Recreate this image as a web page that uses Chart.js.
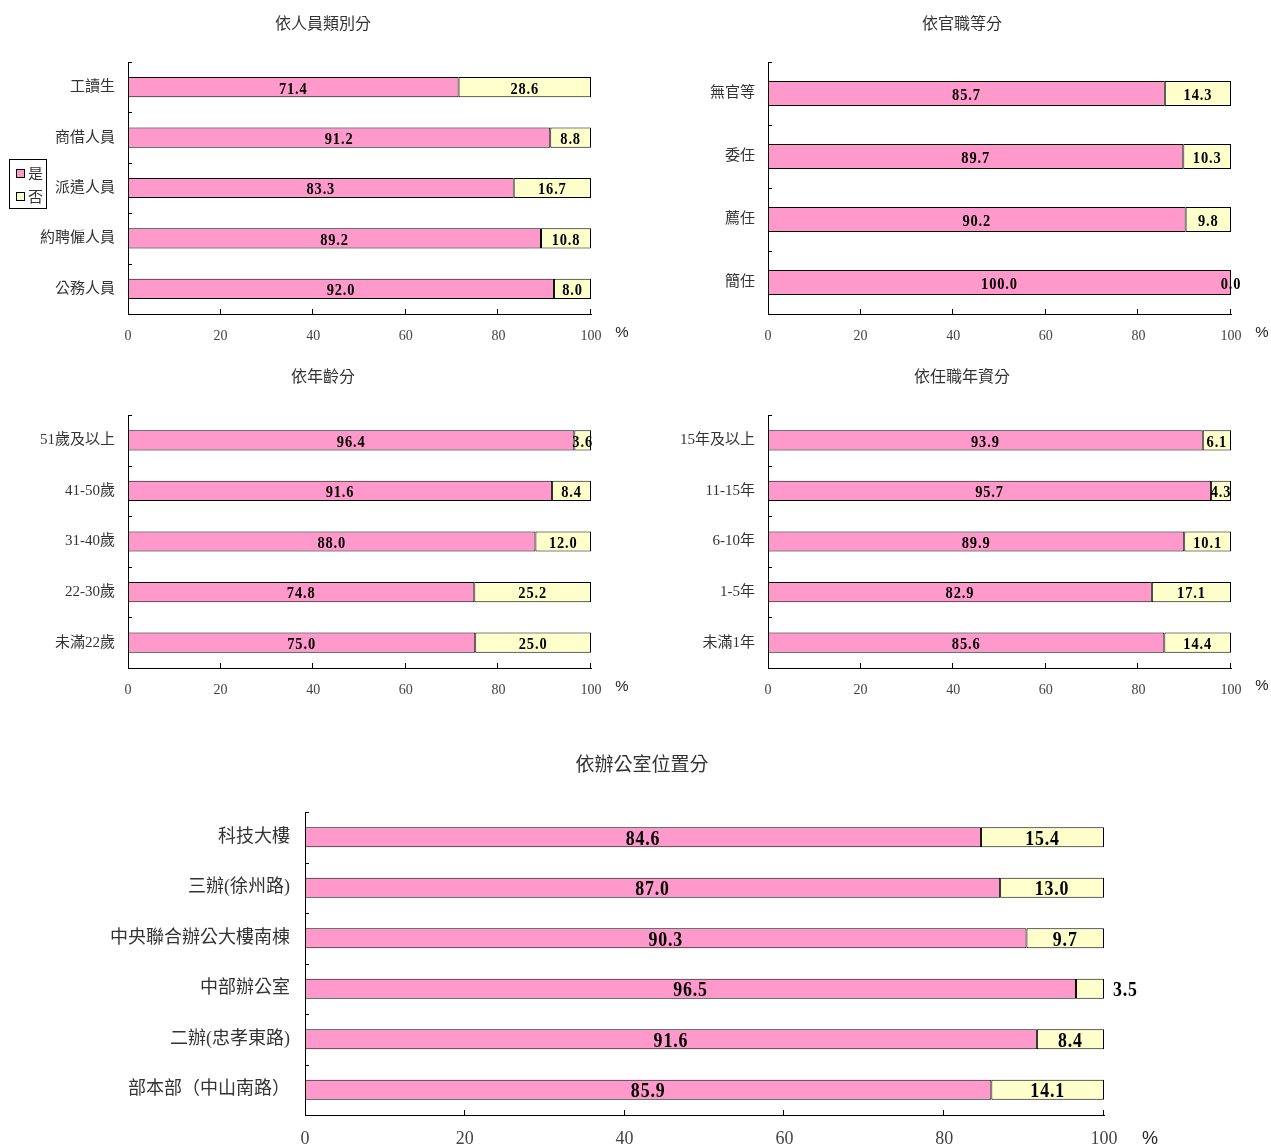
<!DOCTYPE html>
<html>
<head>
<meta charset="utf-8">
<script src="https://cdn.jsdelivr.net/npm/chart.js@4/dist/chart.umd.min.js"></script>
<style>
  body { margin: 0; background: #fff; width: 1271px; height: 1147px; position: relative; overflow: hidden; }
  canvas { position: absolute; }
</style>
</head>
<body>
<canvas id="c1" width="640" height="350" style="left:0;top:0"></canvas>
<canvas id="c2" width="631" height="350" style="left:640px;top:0"></canvas>
<canvas id="c3" width="640" height="350" style="left:0;top:353px"></canvas>
<canvas id="c4" width="631" height="350" style="left:640px;top:353px"></canvas>
<canvas id="c5" width="1271" height="417" style="left:0;top:730px"></canvas>
<script>
// values (是 / 否, in %)
const seriesNames = ["是", "否"];
const xTickValues = [0, 20, 40, 60, 80, 100];

const staffCats = ["工讀生", "商借人員", "派遣人員", "約聘僱人員", "公務人員"];
const staffYes = [71.4, 91.2, 83.3, 89.2, 92.0];
const staffNo = [28.6, 8.8, 16.7, 10.8, 8.0];

const rankCats = ["無官等", "委任", "薦任", "簡任"];
const rankYes = [85.7, 89.7, 90.2, 100.0];
const rankNo = [14.3, 10.3, 9.8, 0.0];

const ageCats = ["51歲及以上", "41-50歲", "31-40歲", "22-30歲", "未滿22歲"];
const ageYes = [96.4, 91.6, 88.0, 74.8, 75.0];
const ageNo = [3.6, 8.4, 12.0, 25.2, 25.0];

const tenureCats = ["15年及以上", "11-15年", "6-10年", "1-5年", "未滿1年"];
const tenureYes = [93.9, 95.7, 89.9, 82.9, 85.6];
const tenureNo = [6.1, 4.3, 10.1, 17.1, 14.4];

const officeCats = ["科技大樓", "三辦(徐州路)", "中央聯合辦公大樓南棟", "中部辦公室", "二辦(忠孝東路)", "部本部（中山南路）"];
const officeYes = [84.6, 87.0, 90.3, 96.5, 91.6, 85.9];
const officeNo = [15.4, 13.0, 9.7, 3.5, 8.4, 14.1];

const PINK = "#FF99CC";
const YELLOW = "#FFFFCC";
const FONT = "'Liberation Serif', 'Noto Sans CJK TC', serif";

// titles, %, inside ticks, bar labels and the legend box
const decor = {
  id: "decor",
  afterDraw(chart, args, o) {
    const ctx = chart.ctx;
    const xs = chart.scales.x, ys = chart.scales.y;
    const a = chart.chartArea;
    ctx.save();

    ctx.fillStyle = "#333";
    ctx.font = o.titleSize + "px " + FONT;
    ctx.textAlign = "center";
    ctx.textBaseline = "middle";
    ctx.fillText(o.title, o.titleX, o.titleY);

    ctx.fillStyle = "#222";
    ctx.font = o.pctSize + "px 'Liberation Sans', sans-serif";
    ctx.fillText("%", a.right + o.pctDx, o.pctY);

    // tick marks pointing into the plot
    ctx.strokeStyle = "#000";
    ctx.lineWidth = 1;
    ctx.beginPath();
    const n = chart.data.labels.length;
    const band = (ys.bottom - ys.top) / n;
    for (let i = 0; i < n; i++) {
      const y = Math.round(ys.top + i * band) + 0.5;
      ctx.moveTo(a.left, y);
      ctx.lineTo(a.left + 4, y);
    }
    xTickValues.slice(1).forEach(v => {
      const x = Math.round(xs.getPixelForValue(v)) - 0.5;
      ctx.moveTo(x, a.bottom);
      ctx.lineTo(x, a.bottom - 5);
    });
    ctx.stroke();

    // value labels, bold and a little condensed
    ctx.fillStyle = "#000";
    ctx.font = "bold " + o.labelSize + "px 'Liberation Serif', serif";
    ctx.letterSpacing = "1px";
    const sx = 0.85;
    chart.data.datasets.forEach((ds, di) => {
      chart.getDatasetMeta(di).data.forEach((el, i) => {
        const txt = ds.data[i].toFixed(1);
        const w = ctx.measureText(txt).width * sx;
        const left = Math.min(el.x, el.base), right = Math.max(el.x, el.base);
        let cx = (left + right) / 2;
        if (o.outsideSmall && right - left < w + 10) cx = right + 9 + w / 2;
        ctx.save();
        ctx.translate(cx, el.y + o.labelDy);
        ctx.scale(sx, 1);
        ctx.fillText(txt, 0, 0);
        ctx.restore();
      });
    });
    ctx.letterSpacing = "0px";

    if (o.legend) {
      ctx.strokeStyle = "#000";
      ctx.fillStyle = "#fff";
      ctx.fillRect(9.5, 159.5, 37, 49);
      ctx.strokeRect(9.5, 159.5, 37, 49);
      const rows = [[PINK, 169.5, 175], [YELLOW, 192.5, 198]];
      rows.forEach((r, k) => {
        ctx.fillStyle = r[0];
        ctx.fillRect(16.5, r[1], 8, 8);
        ctx.strokeRect(16.5, r[1], 8, 8);
        ctx.fillStyle = "#333";
        ctx.font = "15px " + FONT;
        ctx.textAlign = "left";
        ctx.fillText(chart.data.datasets[k].label, 28, r[2]);
      });
    }
    ctx.restore();
  }
};

function makeChart(id, cats, yes, no, c) {
  const cv = document.getElementById(id);
  const W = cv.width, H = cv.height;
  return new Chart(cv, {
    type: "bar",
    data: {
      labels: cats,
      datasets: [
        { label: seriesNames[0], data: yes, backgroundColor: PINK },
        { label: seriesNames[1], data: no, backgroundColor: YELLOW }
      ]
    },
    options: {
      indexAxis: "y",
      responsive: false,
      animation: false,
      devicePixelRatio: 1,
      datasets: {
        bar: {
          borderColor: "#000", borderWidth: 1, borderSkipped: false,
          categoryPercentage: 0.8, barPercentage: 0.5
        }
      },
      layout: {
        padding: { left: 0, top: c.top, right: W - c.right, bottom: H - c.bottom - c.axisH }
      },
      scales: {
        x: {
          stacked: true, min: 0, max: 100,
          afterBuildTicks: s => { s.ticks = xTickValues.map(v => ({ value: v })); },
          afterFit: s => { s.height = c.axisH; },
          grid: { display: false, drawTicks: false },
          border: { color: "#000", width: 1 },
          ticks: { color: "#444", padding: c.xPad, font: { family: FONT, size: c.tickSize } }
        },
        y: {
          stacked: true,
          afterFit: s => { s.width = c.left; },
          grid: { display: false, drawTicks: false },
          border: { color: "#000", width: 1 },
          ticks: { color: "#333", padding: c.yPad, font: { family: FONT, size: c.catSize } }
        }
      },
      plugins: {
        legend: { display: false },
        tooltip: { enabled: false },
        decor: c.decor
      }
    },
    plugins: [decor]
  });
}

const small = { left: 128, right: 591, top: 62, bottom: 314, axisH: 34, xPad: 14, yPad: 13, tickSize: 14, catSize: 15 };
const deco = (title, extra) => Object.assign({
  title, titleX: 323, titleY: 25, titleSize: 16, pctDx: 31, pctY: 333, pctSize: 15,
  labelSize: 17, labelDy: 2, legend: false, outsideSmall: false
}, extra || {});

makeChart("c1", staffCats, staffYes, staffNo, Object.assign({}, small, { decor: deco("依人員類別分", { legend: true }) }));
makeChart("c2", rankCats, rankYes, rankNo, Object.assign({}, small, { decor: deco("依官職等分", { titleX: 322 }) }));
makeChart("c3", ageCats, ageYes, ageNo, Object.assign({}, small, { bottom: 315, decor: deco("依年齡分", { pctY: 334 }) }));
makeChart("c4", tenureCats, tenureYes, tenureNo, Object.assign({}, small, { bottom: 315, decor: deco("依任職年資分", { titleX: 322, pctY: 333 }) }));
makeChart("c5", officeCats, officeYes, officeNo, {
  left: 305, right: 1104, top: 82, bottom: 385, axisH: 32, xPad: 13, yPad: 15, tickSize: 18, catSize: 18,
  decor: {
    title: "依辦公室位置分", titleX: 642, titleY: 36, titleSize: 19, pctDx: 46, pctY: 409, pctSize: 18,
    labelSize: 21, labelDy: 2, legend: false, outsideSmall: true
  }
});
</script>
</body>
</html>
